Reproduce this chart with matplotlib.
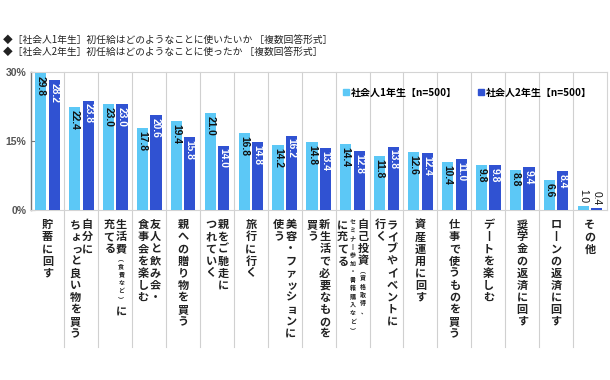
import numpy as np
import matplotlib
matplotlib.use("Agg")
import matplotlib.pyplot as plt
from matplotlib.lines import Line2D

plt.rcParams['font.family'] = ['Noto Sans CJK JP', 'DejaVu Sans']

TITLE_1 = "◆［社会人1年生］初任給はどのようなことに使いたいか ［複数回答形式］"
TITLE_2 = "◆［社会人2年生］初任給はどのようなことに使ったか ［複数回答形式］"

SERIES_NAMES = ["社会人1年生【n=500】", "社会人2年生【n=500】"]

first_year = [29.8, 22.4, 23.0, 17.8, 19.4, 21.0, 16.8, 14.2, 14.8,
              14.4, 11.8, 12.6, 10.4, 9.8, 8.8, 6.6, 1.0]
second_year = [28.2, 23.8, 23.0, 20.6, 15.8, 14.0, 14.8, 16.2, 13.4,
               12.8, 13.8, 12.4, 11.0, 9.8, 9.4, 8.4, 0.4]

# each label: columns from right to left, each column a list of (text, small?)
labels = [
    [[("貯蓄に回す", False)]],
    [[("自分に", False)], [("ちょっと良い物を買う", False)]],
    [[("生活費", False), ("（食費など）", True), ("に", False)], [("充てる", False)]],
    [[("友人と飲み会・", False)], [("食事会を楽しむ", False)]],
    [[("親への贈り物を買う", False)]],
    [[("親をご馳走に", False)], [("つれていく", False)]],
    [[("旅行に行く", False)]],
    [[("美容・ファッションに", False)], [("使う", False)]],
    [[("新生活で必要なものを", False)], [("買う", False)]],
    [[("自己投資", False), ("（資格取得、", True)],
     [("セミナー参加・書籍購入など）", True)],
     [("に充てる", False)]],
    [[("ライブやイベントに", False)], [("行く", False)]],
    [[("資産運用に回す", False)]],
    [[("仕事で使うものを買う", False)]],
    [[("デートを楽しむ", False)]],
    [[("奨学金の返済に回す", False)]],
    [[("ローンの返済に回す", False)]],
    [[("その他", False)]],
]

LIGHT = "#5cc8f6"
DARK = "#3052d2"
VERTICAL = {"ー": "丨", "（": "︵", "）": "︶"}
SMALL_KANA = set("ょっゃゅャュョッィェォ、")

fig = plt.figure(figsize=(6.1, 3.8), dpi=100)
ax = fig.add_axes([0.050, 0.447, 0.945, 0.3635])

x = np.arange(len(first_year))
w = 0.33
ax.bar(x - 0.2, first_year, w, color=LIGHT, zorder=3)
ax.bar(x + 0.2, second_year, w, color=DARK, zorder=3)

for i, (a, b) in enumerate(zip(first_year, second_year)):
    for xv, v, col in ((x[i] - 0.2, a, "#111111"), (x[i] + 0.2, b, "white")):
        if v < 3:
            ax.annotate(f"{v:.1f}", (xv, v), xytext=(0, 2), textcoords="offset points",
                        rotation=270, ha="center", va="bottom", fontsize=7.4,
                        color="#111111", family="Liberation Sans", zorder=4)
        else:
            ax.annotate(f"{v:.1f}", (xv, v), xytext=(0, -2), textcoords="offset points",
                        rotation=270, ha="center", va="top", fontsize=7.4,
                        fontweight="bold", color=col, family="Liberation Sans", zorder=4)

ax.set_xlim(-0.5, len(x) - 0.5)
ax.set_ylim(0, 30)
ax.set_yticks([0, 15, 30])
ax.set_yticklabels(["0%", "15%", "30%"], fontsize=7.5, color="#555555",
                   family="Liberation Sans", fontweight="bold")
ax.set_xticks([])
ax.tick_params(axis="y", direction="in", length=3, color="#777777", pad=3)

for s in ("top", "right", "bottom"):
    ax.spines[s].set_color("#d4d4d4")
    ax.spines[s].set_linewidth(0.8)
ax.spines["left"].set_color("#777777")
ax.spines["left"].set_linewidth(1.0)

for k in range(len(x) - 1):
    ax.axvline(k + 0.5, ymin=-0.99, ymax=1, color="#d0d0d0", lw=0.8,
               clip_on=False, zorder=1)

# vertical category labels, one glyph at a time
BIG, BIG_STEP = 8.0, 8.7
SMALL, SMALL_STEP = 4.3, 6.0
TOP = 6.0
for i, cols in enumerate(labels):
    widths = [BIG_STEP if any(not sm for _, sm in c) else SMALL_STEP for c in cols]
    pos = sum(widths) / 2
    for c, cw in zip(cols, widths):
        cx = pos - cw / 2
        pos -= cw
        y = TOP
        for text, small in c:
            fs = SMALL if small else BIG
            step = SMALL_STEP if small else BIG_STEP
            for ch in text:
                dx = 0.12 * fs if ch in SMALL_KANA else 0
                g = VERTICAL.get(ch, ch)
                ax.annotate(g, (x[i], 0), xycoords=("data", "axes fraction"),
                            xytext=(cx + dx, -(y + 0.88 * fs)),
                            textcoords="offset points", ha="center", va="baseline",
                            fontsize=fs, fontweight="bold", color="#222222",
                            annotation_clip=False)
                y += step

handles = [Line2D([], [], marker="s", ls="", color=LIGHT, markersize=4),
           Line2D([], [], marker="s", ls="", color=DARK, markersize=4)]
ax.legend(handles, SERIES_NAMES, loc="center left", bbox_to_anchor=(0.525, 0.85),
          ncol=2, frameon=False, handletextpad=0.1, columnspacing=2.0,
          handlelength=0.8, prop={"weight": "bold", "size": 7.2})

fig.text(0.005, 1 - 40 / 380, TITLE_1, fontsize=7, va="center", ha="left", color="#222222")
fig.text(0.005, 1 - 52 / 380, TITLE_2, fontsize=7, va="center", ha="left", color="#222222")

fig.savefig("out.png", dpi=100)
